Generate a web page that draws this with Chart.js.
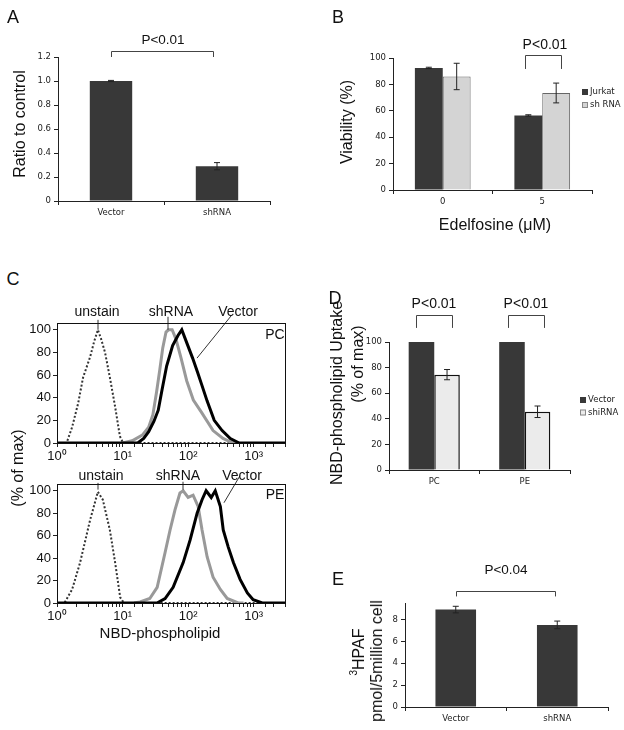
<!DOCTYPE html>
<html>
<head>
<meta charset="utf-8">
<script src="https://cdn.jsdelivr.net/npm/chart.js@4"></script>
<style>
  body { margin: 0; background: #fff; }
  #fig { position: relative; width: 624px; height: 730px; overflow: hidden; font-family: 'Liberation Sans', Arial, sans-serif; color: #111; }
  canvas { position: absolute; }
  .t { position: absolute; white-space: nowrap; transform: translate(-50%, -50%); line-height: 1; }
  .r { transform: translate(-50%, -50%) rotate(-90deg); }
</style>
</head>
<body>
<div id="fig">
  <canvas id="cA" width="300" height="240" style="left:0;top:0"></canvas>
  <canvas id="cB" width="324" height="250" style="left:300px;top:0"></canvas>
  <canvas id="cC1" width="300" height="165" style="left:0;top:300px"></canvas>
  <canvas id="cC2" width="300" height="170" style="left:0;top:460px"></canvas>
  <canvas id="cD" width="294" height="230" style="left:330px;top:280px"></canvas>
  <canvas id="cE" width="294" height="190" style="left:330px;top:540px"></canvas>
</div>
<script>
// ---- data ----
const aLabels = ["Vector", "shRNA"];
const aValues = [1.0, 0.29];
const aErrors = [0.005, 0.03];

const bLabels = ["0", "5"];
const bJurkat = [92.5, 56.5];
const bJurkatErr = [0.5, 0.5];
const bShRNA = [86, 73.5];
const bShRNAErr = [10, 7.5];

// histograms: [intensity, % of max]
const pcUnstain = [[1,0],[1.4,0],[1.7,14],[2.1,35],[2.5,58],[3.2,76],[3.7,90],[4.2,100],[4.7,92],[5.4,80],[6.4,58],[7.7,32],[9.1,6],[10.2,0],[3000,0]];
const pcShRNA = [[10,0],[14,2],[20,7],[25,14],[29,25],[33,45],[37,65],[41,84],[46,98],[50,100],[57,100],[65,92],[78,75],[95,55],[120,38],[160,27],[240,11],[340,4],[480,0],[600,0]];
const pcVector = [[1,0],[17,0],[21,4],[25,10],[30,19],[35,29],[40,47],[47,68],[58,86],[70,95],[80,100],[96,88],[117,75],[140,62],[160,52],[195,37],[250,20],[330,11],[440,4],[600,0],[3000,0]];
const peUnstain = [[1,0],[1.3,0],[1.7,12],[2.25,36],[3.2,74],[4.2,99],[5.0,92],[6.4,65],[7.7,36],[9.2,5],[10.5,0],[3000,0]];
const peShRNA = [[15,0],[18.5,1],[26,4],[33.7,14],[44.5,45],[53,65],[63,83],[75,98],[84,100],[100,94],[119,96],[142,86],[163,65],[195,41],[240,23],[310,12],[394,4],[580,0],[700,0]];
const peVector = [[1,0],[33.5,0],[44.5,4],[59,14],[84,36],[107,56],[137,80],[163,92],[188,100],[225,94],[259,100],[310,86],[343,65],[408,50],[490,36],[620,21],[800,9],[980,3],[1350,0],[3000,0]];
const logTicks = [1, 10, 100, 1000];
const pctTicks = [0, 10, 20, 30, 40, 50, 60, 70, 80, 90, 100];

const dLabels = ["PC", "PE"];
const dVector = [100, 100];
const dShiRNA = [74.5, 45.5];
const dShiRNAErr = [4, 4.5];

const eLabels = ["Vector", "shRNA"];
const eValues = [8.9, 7.5];
const eErrors = [0.3, 0.35];

// ---- helpers ----
Chart.defaults.font.family = "'DejaVu Sans', sans-serif";
Chart.defaults.color = '#222';

const marks = {
  id: 'marks',
  afterDatasetsDraw(chart, args, opts) {
    const ctx = chart.ctx, xs = chart.scales.x, ys = chart.scales.y;
    ctx.save();
    ctx.strokeStyle = '#222';
    ctx.lineWidth = 1;
    chart.data.datasets.forEach((ds, i) => {
      if (!ds.errors) return;
      chart.getDatasetMeta(i).data.forEach((bar, j) => {
        const e = ds.errors[j];
        if (!e) return;
        const t = ys.getPixelForValue(ds.data[j] + e), b = ys.getPixelForValue(ds.data[j] - e);
        ctx.beginPath();
        ctx.moveTo(bar.x, t); ctx.lineTo(bar.x, b);
        ctx.moveTo(bar.x - 3, t); ctx.lineTo(bar.x + 3, t);
        ctx.moveTo(bar.x - 3, b); ctx.lineTo(bar.x + 3, b);
        ctx.stroke();
      });
    });
    (opts.brackets || []).forEach(k => {
      const x0 = Math.round(xs.getPixelForValue(k.from)) + 0.5, x1 = Math.round(xs.getPixelForValue(k.to)) + 0.5;
      const yt = Math.round(ys.getPixelForValue(k.top)) + 0.5, yb = ys.getPixelForValue(k.tip);
      ctx.strokeStyle = '#444';
      ctx.beginPath();
      ctx.moveTo(x0, yb); ctx.lineTo(x0, yt); ctx.lineTo(x1, yt); ctx.lineTo(x1, yb);
      ctx.stroke();
    });
    (opts.leaders || []).forEach(l => {
      ctx.strokeStyle = '#333';
      ctx.beginPath();
      ctx.moveTo(xs.getPixelForValue(l[0]), ys.getPixelForValue(l[1]));
      ctx.lineTo(xs.getPixelForValue(l[2]), ys.getPixelForValue(l[3]));
      ctx.stroke();
    });
    if (opts.frame) {
      const a = chart.chartArea;
      ctx.strokeStyle = '#111';
      ctx.strokeRect(a.left + 0.5, a.top + 0.5, a.right - a.left, a.bottom - a.top);
    }
    if (opts.legend) {
      ctx.font = "8.5px 'DejaVu Sans'";
      ctx.textBaseline = 'middle';
      chart.data.datasets.forEach((ds, i) => {
        const y = opts.legend.y + i * opts.legend.gap;
        ctx.fillStyle = ds.backgroundColor;
        ctx.fillRect(opts.legend.x, y - 3, 6, 6);
        if (ds.borderWidth) { ctx.strokeStyle = '#888'; ctx.strokeRect(opts.legend.x + 0.5, y - 2.5, 5, 5); }
        ctx.fillStyle = '#222';
        ctx.fillText(ds.label, opts.legend.x + 8, y);
      });
    }
    ctx.restore();
  }
};

const near = (v, s) => Math.abs(v / s - Math.round(v / s)) < 1e-6;

function barChart(id, labels, datasets, o) {
  return new Chart(document.getElementById(id), {
    type: 'bar',
    data: { labels: labels, datasets: datasets },
    options: {
      responsive: false,
      animation: false,
      layout: { padding: { top: o.top, right: o.right, left: 0, bottom: 0 } },
      plugins: {
        legend: { display: false },
        tooltip: { enabled: false },
        marks: { brackets: o.brackets, legend: o.legend }
      },
      scales: {
        x: {
          grid: { offset: true, drawOnChartArea: false, tickLength: 4, color: '#222' },
          border: { color: '#222' },
          ticks: { font: { size: 8.5 } },
          afterFit: s => { s.height = o.xh; }
        },
        y: {
          min: 0, max: o.max,
          ticks: { stepSize: o.step, font: { size: 8.5 }, padding: 3 },
          afterBuildTicks: s => { s.ticks = s.ticks.filter(t => near(t.value, o.step)); },
          grid: { drawOnChartArea: false, tickLength: 4, color: '#222' },
          border: { color: '#222' },
          afterFit: s => { s.width = o.yw; }
        }
      }
    },
    plugins: [marks]
  });
}

const sup = ['\u2070', '\u00b9', '\u00b2', '\u00b3'];

function histChart(id, unstain, sh, vec, o) {
  return new Chart(document.getElementById(id), {
    type: 'line',
    data: {
      datasets: [
        { label: 'Vector', data: vec, borderColor: '#000', borderWidth: 3 },
        { label: 'shRNA', data: sh, borderColor: '#999', borderWidth: 3 },
        { label: 'unstain', data: unstain, borderColor: '#333', borderWidth: 2, borderDash: [2, 2] }
      ]
    },
    options: {
      responsive: false,
      animation: false,
      elements: { point: { radius: 0 }, line: { tension: 0 } },
      layout: { padding: { top: o.top, right: 15, left: 0, bottom: 0 } },
      plugins: {
        legend: { display: false },
        tooltip: { enabled: false },
        marks: { frame: true, leaders: o.leaders }
      },
      scales: {
        x: {
          type: 'logarithmic', min: 1, max: 3000,
          grid: { drawOnChartArea: false, tickLength: 4, color: '#222' },
          border: { color: '#222' },
          ticks: {
            autoSkip: false, maxRotation: 0, padding: 2, color: '#111',
            font: { family: "'Liberation Sans', Arial", size: 13 },
            callback: v => { const i = logTicks.indexOf(v); return i < 0 ? '' : '10' + sup[i]; }
          },
          afterFit: s => { s.height = o.xh; }
        },
        y: {
          min: 0, max: 106,
          ticks: {
            padding: 2, color: '#111',
            font: { family: "'Liberation Sans', Arial", size: 13 },
            callback: v => (v % 20 === 0 ? v : '')
          },
          afterBuildTicks: s => { s.ticks = pctTicks.map(v => ({ value: v })); },
          grid: { drawOnChartArea: false, tickLength: 4, color: '#222' },
          border: { color: '#222' },
          afterFit: s => { s.width = 57; }
        }
      }
    },
    plugins: [marks]
  });
}

// ---- charts ----
const dark = '#383838';

barChart('cA', aLabels, [
  { label: 'Ratio', data: aValues, errors: aErrors, backgroundColor: dark, categoryPercentage: 0.4, barPercentage: 1 }
], { top: 57, right: 30, xh: 39, yw: 58, max: 1.2, step: 0.2,
     brackets: [{ from: 0, to: 0.96, top: 1.25, tip: 1.2 }] });

barChart('cB', bLabels, [
  { label: 'Jurkat', data: bJurkat, errors: bJurkatErr, backgroundColor: dark, categoryPercentage: 0.56, barPercentage: 1 },
  { label: 'sh RNA', data: bShRNA, errors: bShRNAErr, backgroundColor: '#d4d4d4', borderColor: '#666', borderWidth: 1, categoryPercentage: 0.56, barPercentage: 1 }
], { top: 58, right: 32, xh: 60, yw: 93, max: 100, step: 20,
     brackets: [{ from: 0.83, to: 1.19, top: 102.3, tip: 91.7 }],
     legend: { x: 282, y: 92, gap: 13 } });

histChart('cC1', pcUnstain, pcShRNA, pcVector, { top: 23, xh: 22,
  leaders: [[4.22, 108.8, 4.22, 100], [49.3, 111.5, 49.3, 100], [467, 113.3, 136.5, 75]] });

histChart('cC2', peUnstain, peShRNA, peVector, { top: 24, xh: 27,
  leaders: [[4.22, 107, 4.22, 101], [83.5, 108, 83.5, 101], [618, 113.4, 352, 89.3]] });

barChart('cD', dLabels, [
  { label: 'Vector', data: dVector, backgroundColor: dark, categoryPercentage: 0.565, barPercentage: 1 },
  { label: 'shiRNA', data: dShiRNA, errors: dShiRNAErr, backgroundColor: '#ebebeb', borderColor: '#111', borderWidth: 1.5, categoryPercentage: 0.565, barPercentage: 1 }
], { top: 62, right: 54, xh: 40, yw: 59, max: 100, step: 20,
     brackets: [{ from: -0.2, to: 0.2, top: 121, tip: 111 }, { from: 0.815, to: 1.213, top: 121, tip: 111 }],
     legend: { x: 250, y: 120, gap: 12.5 } });

barChart('cE', eLabels, [
  { label: 'HPAF', data: eValues, errors: eErrors, backgroundColor: dark, categoryPercentage: 0.4, barPercentage: 1 }
], { top: 63, right: 16, xh: 23, yw: 75, max: 9.5, step: 2,
     brackets: [{ from: 0, to: 0.98, top: 10.6, tip: 10.1 }] });

// ---- text ----
const texts = [
  ['A', 13, 17, 18], ['B', 338, 17, 18], ['C', 13, 279, 18], ['D', 335, 298, 18], ['E', 338, 579, 18],
  ['P&lt;0.01', 163, 40, 13.5], ['P&lt;0.01', 545, 44, 14], ['P&lt;0.01', 434, 303, 14], ['P&lt;0.01', 526, 303, 14], ['P&lt;0.04', 506, 570, 13.5],
  ['Ratio to control', 20, 124, 16, 1], ['Viability (%)', 347, 122, 16, 1], ['Edelfosine (\u03bcM)', 495, 225, 16],
  ['(% of max)', 18, 468, 16, 1], ['NBD-phospholipid', 160, 632, 15],
  ['unstain', 97, 311, 14], ['shRNA', 171, 311, 14], ['Vector', 238, 311, 14], ['PC', 275, 334, 14],
  ['unstain', 101, 475, 14], ['shRNA', 178, 475, 14], ['Vector', 242, 475, 14], ['PE', 275, 494, 14],
  ['NBD-phospholipid Uptake', 337, 393, 16, 1], ['(% of max)', 358, 364, 16, 1],
  ['<sup style="font-size:10px">3</sup>HPAF', 358, 652, 16, 1], ['pmol/5million cell', 377, 661, 16, 1]
];
const fig = document.getElementById('fig');
texts.forEach(t => {
  const d = document.createElement('div');
  d.className = 't' + (t[4] ? ' r' : '');
  d.innerHTML = t[0];
  d.style.left = t[1] + 'px';
  d.style.top = t[2] + 'px';
  d.style.fontSize = t[3] + 'px';
  fig.appendChild(d);
});
</script>
</body>
</html>
